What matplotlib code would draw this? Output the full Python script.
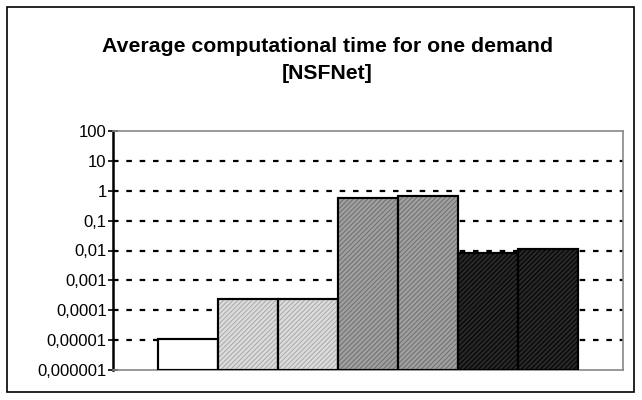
import matplotlib
matplotlib.use("Agg")
import matplotlib.pyplot as plt
from matplotlib.patches import Rectangle
from matplotlib.ticker import FixedLocator, NullLocator

plt.rcParams["font.family"] = ["Liberation Sans", "DejaVu Sans"]
plt.rcParams["hatch.linewidth"] = 0.7

# ------------------------------------------------------
# Data: average time per demand, seconds (log scale)
# ------------------------------------------------------
methods = ["M1", "M2", "M3", "M4", "M5", "M6", "M7"]
avg_time = [0.00001, 0.00023, 0.00023, 0.56, 0.66, 0.0081, 0.011]
fill_colors = ["#ffffff", "#dcdcdc", "#dcdcdc", "#a0a0a0", "#a0a0a0", "#282828", "#282828"]
hatch_colors = [None, "#a8a8a8", "#a8a8a8", "#6e6e6e", "#6e6e6e", "#000000", "#000000"]

tick_values = [1e2, 1e1, 1, 0.1, 0.01, 0.001, 0.0001, 0.00001, 0.000001]
tick_labels = ["100", "10", "1", "0,1", "0,01", "0,001", "0,0001", "0,00001", "0,000001"]

TITLE = "Average computational time for one demand\n[NSFNet]"

# ------------------------------------------------------
# Figure
# ------------------------------------------------------
fig = plt.figure(figsize=(6.42, 4.0), dpi=100)
fig.patch.set_facecolor("white")
fig.patches.append(Rectangle((0.011, 0.02), 0.976, 0.962, transform=fig.transFigure,
                             fill=False, edgecolor="black", linewidth=1.2))

ax = fig.add_axes([0.176, 0.075, 0.794, 0.5975])
ax.set_yscale("log")
ax.set_ylim(1e-6, 1e2)
ax.set_xlim(-1.25, 7.25)

xs = list(range(len(methods)))
ax.bar(xs, avg_time, width=1.0, bottom=1e-6, color=fill_colors,
       edgecolor="black", linewidth=1.5, zorder=3)
for x, v, hc in zip(xs, avg_time, hatch_colors):
    if hc is None:
        continue
    ax.bar(x, v - 1e-6, width=0.97, bottom=1e-6, color="none", edgecolor=hc,
           linewidth=0, hatch="///////", zorder=3.5)
# redraw outlines above hatch
ax.bar(xs, avg_time, width=1.0, bottom=1e-6, color="none",
       edgecolor="black", linewidth=1.5, zorder=4)

# gridlines (top decade is the frame)
for t in tick_values[1:-1]:
    ax.axhline(t, color="black", linestyle=(0, (2.5, 3.5)), linewidth=1.6, zorder=1)

ax.yaxis.set_major_locator(FixedLocator(tick_values))
ax.yaxis.set_minor_locator(NullLocator())
ax.set_yticklabels(tick_labels, fontsize=12)
ax.tick_params(axis="y", direction="inout", length=7, width=1.2, pad=1)
ax.set_xticks([])

for side in ["top", "right", "bottom"]:
    ax.spines[side].set_color("#888888")
    ax.spines[side].set_linewidth(1.2)
ax.spines["left"].set_color("black")
ax.spines["left"].set_linewidth(1.8)

fig.text(0.51, 0.85, TITLE, ha="center", va="center", fontsize=15.3,
         fontweight="bold", linespacing=1.55)

fig.savefig("out.png", dpi=100)
